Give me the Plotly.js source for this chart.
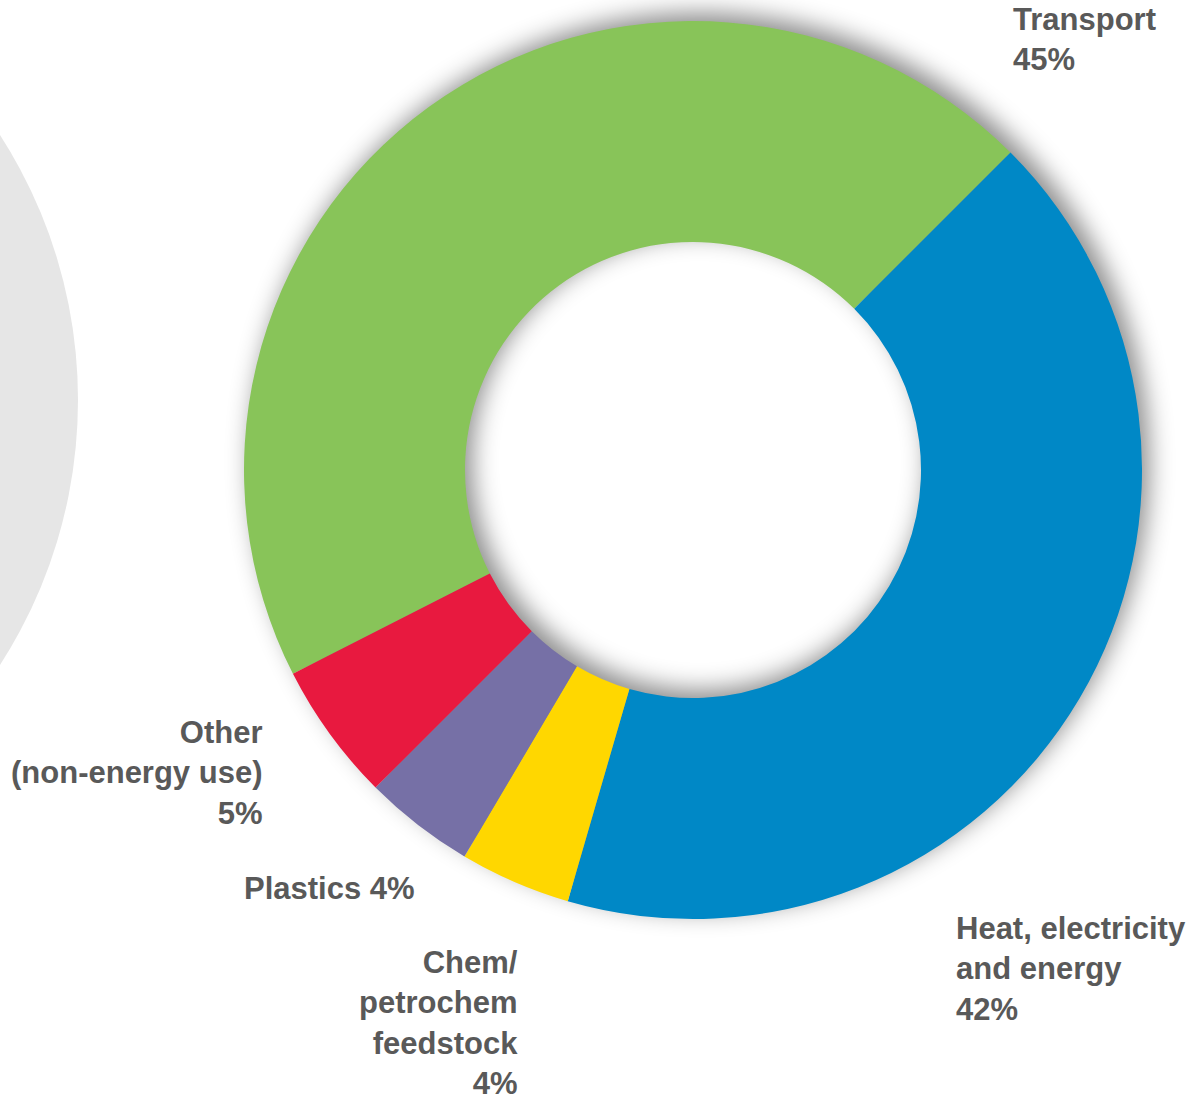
<!DOCTYPE html>
<html>
<head>
<meta charset="utf-8">
<script src="https://cdn.plot.ly/plotly-3.0.1.min.js"></script>
<style>
  html, body { margin: 0; padding: 0; background: #ffffff; }
  #chart { width: 1191px; height: 1096px; }
  .pielayer g.trace { filter: drop-shadow(7px -8px 12px rgba(0,0,0,0.45)); }
</style>
</head>
<body>
<div id="chart"></div>
<script>
// ---- data ----
const categories = ["Transport", "Heat, electricity and energy", "Chem/petrochem feedstock", "Plastics", "Other (non-energy use)"];
const shares = [45, 42, 4, 4, 5];
const labelLines = [
  ["Transport"],
  ["Heat, electricity", "and energy"],
  ["Chem/", "petrochem", "feedstock"],
  ["Plastics"],
  ["Other", "(non-energy use)"]
];
const sliceColors = ["#88C459", "#0088C6", "#FFD700", "#7670A6", "#E8193F"];

// ---- layout helpers (pixel -> paper) ----
const W = 1191, H = 1096;
const px = x => x / W;
const py = y => 1 - y / H;

const cx = 693, cy = 470, R = 449, rHole = 228;

const trace = {
  type: "pie",
  labels: categories,
  values: shares,
  sort: false,
  direction: "clockwise",
  rotation: 45 - shares[0] / 100 * 360,
  hole: rHole / R,
  textinfo: "none",
  hoverinfo: "label+percent",
  marker: { colors: sliceColors, line: { width: 0 } },
  domain: { x: [px(cx - R), px(cx + R)], y: [py(cy + R), py(cy - R)] },
  showlegend: false
};

// label placement: [x, yCenter, side]
const labelPos = [
  [1011, 40, "left"],
  [954, 969, "left"],
  [520, 1023, "right"],
  [417, 888, "right"],
  [264, 773, "right"]
];

const annotations = categories.map((c, i) => {
  const lines = labelLines[i].slice();
  if (i === 3) lines[lines.length - 1] += " " + shares[i] + "%";
  else lines.push(shares[i] + "%");
  return {
    xref: "paper", yref: "paper",
    x: px(labelPos[i][0]), y: py(labelPos[i][1]),
    xanchor: labelPos[i][2], yanchor: "middle",
    align: labelPos[i][2],
    showarrow: false,
    text: lines.map(l => "<b>" + l + "</b>").join("<br>"),
    font: { family: "Arial, 'Liberation Sans', sans-serif", size: 31, color: "#595959" }
  };
});

const gR = 489, gcx = -411, gcy = 400;
const layout = {
  width: W, height: H,
  margin: { l: 0, r: 0, t: 0, b: 0 },
  paper_bgcolor: "#ffffff",
  plot_bgcolor: "#ffffff",
  showlegend: false,
  font: { family: "Arial, 'Liberation Sans', sans-serif" },
  shapes: [{
    type: "circle", xref: "paper", yref: "paper", layer: "below",
    x0: px(gcx - gR), x1: px(gcx + gR), y0: py(gcy + gR), y1: py(gcy - gR),
    fillcolor: "#E6E6E6", line: { width: 0 }
  }],
  annotations: annotations
};

Plotly.newPlot("chart", [trace], layout, { displayModeBar: false, staticPlot: true });
</script>
</body>
</html>
